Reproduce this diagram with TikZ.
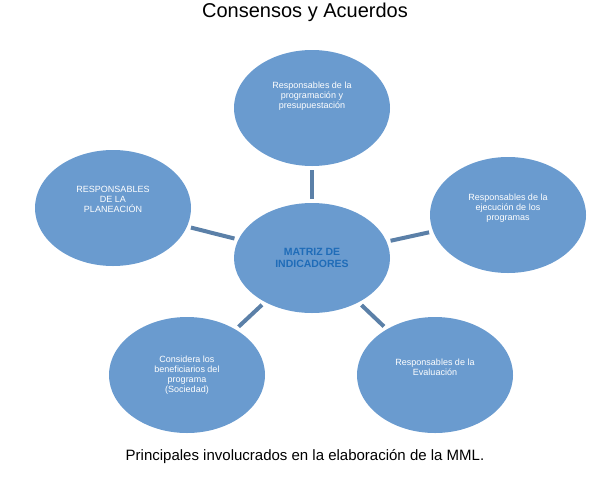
\documentclass[tikz,border=0pt]{standalone}
\usepackage{fontspec}
\setmainfont{Liberation Sans}
\usetikzlibrary{shapes.geometric}
\definecolor{fillb}{HTML}{6A9BCF}
\definecolor{linkb}{HTML}{5B80A8}
\definecolor{darkb}{HTML}{1F6CB8}
\begin{document}
\begin{tikzpicture}[x=1pt,y=-1pt,
  bub/.style={ellipse,fill=fillb,minimum width=156pt,minimum height=116pt,text=white,align=center,font=\fontsize{9}{10}\selectfont,inner sep=0pt},
  link/.style={draw=linkb,line width=4pt,shorten >=4pt,shorten <=4pt}]
\useasboundingbox (0,0) rectangle (615,477);
\node (title) at (305,12) {\fontsize{20}{22}\selectfont Consensos y Acuerdos};
\node[bub] (t) at (312,108) {Responsables de la\\programación y\\presupuestación\\[16pt]};
\node[bub] (r) at (508,215) {Responsables de la\\ejecución de los\\programas\\[6pt]};
\node[bub] (l) at (113,208) {RESPONSABLES\\DE LA\\PLANEACIÓN\\[8pt]};
\node[bub] (bl) at (187,375) {Considera los\\beneficiarios del\\programa\\(Sociedad)};
\node[bub] (br) at (435,375) {Responsables de la\\Evaluación\\[6pt]};
\node[bub,minimum width=156pt,minimum height=110pt,text=darkb,font=\bfseries\fontsize{10.5}{12}\selectfont] (c) at (312,258) {MATRIZ DE\\INDICADORES};
\draw[link] (c) -- (t);
\draw[link] (c) -- (r);
\draw[link] (c) -- (l);
\draw[link] (c) -- (bl);
\draw[link] (c) -- (br);
\node (cap) at (305,457) {\fontsize{15}{17}\selectfont Principales involucrados en la elaboración de la MML.};
\end{tikzpicture}
\end{document}
